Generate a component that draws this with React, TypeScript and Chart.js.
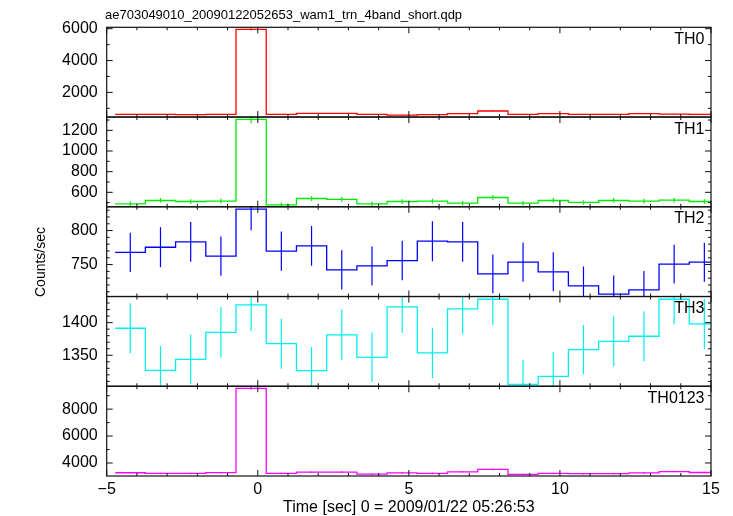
import React, { useEffect, useRef } from "react";
import { Chart, registerables } from "chart.js";

Chart.register(...registerables);

const FONT = "'Liberation Sans', Arial, Helvetica, sans-serif";

const TITLE = "ae703049010_20090122052653_wam1_trn_4band_short.qdp";
const X_LABEL = "Time [sec] 0 = 2009/01/22 05:26:53";
const Y_LABEL = "Counts/sec";

const BIN_CENTERS = [
  -4.22, -3.22, -2.22, -1.22, -0.22, 0.78, 1.78, 2.78, 3.78, 4.78,
  5.78, 6.78, 7.78, 8.78, 9.78, 10.78, 11.78, 12.78, 13.78, 14.78,
];
const BIN_HALF_WIDTH = 0.5;

const PANEL_NAMES = ["TH0", "TH1", "TH2", "TH3", "TH0123"];

const TH0 = [621, 621, 600, 621, 5960, 621, 684, 684, 621, 579, 600, 663, 831, 621, 663, 621, 621, 663, 642, 621];
const TH0_ERR = [25, 25, 24, 25, 78, 25, 26, 26, 25, 24, 24, 26, 29, 25, 26, 25, 25, 26, 25, 25];

const TH1 = [489, 521, 511, 515, 1306, 479, 540, 531, 489, 511, 515, 495, 550, 495, 521, 502, 521, 515, 524, 511];
const TH1_ERR = [22, 23, 23, 23, 36, 22, 23, 23, 22, 23, 23, 22, 23, 22, 23, 22, 23, 23, 23, 23];

const TH2 = [768, 775.5, 783.4, 762.4, 831.5, 769.7, 777.5, 742.2, 748, 755.9, 784.4, 783.4, 736.3, 753.5, 739.3, 718.7, 706.4, 712.8, 750.6, 753.5];
const TH2_ERR = [28.9, 29.4, 29.2, 28.9, 31, 28.9, 29.1, 28.7, 28.7, 29, 29.4, 29.2, 28.5, 28.9, 28.7, 28.4, 27.5, 27.9, 28.5, 28.7];

const TH3 = [1391.4, 1326.9, 1343.8, 1385.2, 1427.1, 1367.8, 1326.4, 1381.1, 1346.9, 1424.1, 1353.5, 1421, 1435.8, 1305.5, 1317.7, 1358.6, 1371.4, 1379.1, 1435.8, 1398];
const TH3_ERR = [38.3, 37.3, 38.1, 38.6, 40, 38.3, 36.8, 38.9, 37.8, 40, 38.3, 38.9, 39.3, 37.3, 37.3, 37.8, 38.3, 38.3, 38.3, 38.6];

const TH0123 = [3275, 3225, 3222, 3282, 9538, 3222, 3317, 3322, 3170, 3263, 3230, 3347, 3529, 3153, 3224, 3203, 3213, 3263, 3366, 3295];
const TH0123_ERR = [57, 57, 57, 57, 98, 57, 58, 58, 56, 57, 57, 58, 59, 56, 57, 57, 57, 57, 58, 57];

const SERIES = [TH0, TH1, TH2, TH3, TH0123];
const ERRORS = [TH0_ERR, TH1_ERR, TH2_ERR, TH3_ERR, TH0123_ERR];
const COLORS = ["rgb(255,0,0)", "rgb(0,235,0)", "rgb(0,0,255)", "rgb(0,240,240)", "rgb(255,0,255)"];

const Y_MIN = [453, 460, 703, 1302.5, 3034];
const Y_MAX = [6088, 1329, 835, 1440, 9698];
const Y_TICK_LABELS = [
  [2000, 4000, 6000],
  [600, 800, 1000, 1200],
  [750, 800],
  [1350, 1400],
  [4000, 6000, 8000],
];
const Y_MAJOR = [2000, 200, 50, 50, 2000];
const Y_MINOR = [1000, 100, 10, 10, 1000];

const X_MIN = -5;
const X_MAX = 15;
const X_TICK_LABELS = [-5, 0, 5, 10, 15];
const X_MAJOR = 5;
const X_MINOR = 1;

function histPoints(values: number[]) {
  const pts = values.map((v, i) => ({ x: BIN_CENTERS[i] - BIN_HALF_WIDTH, y: v }));
  const last = values.length - 1;
  pts.push({ x: BIN_CENTERS[last] + BIN_HALF_WIDTH, y: values[last] });
  return pts;
}

const isMultiple = (v: number, step: number) => Math.abs(v / step - Math.round(v / step)) < 1e-6;

const qdpPlugin = {
  id: "qdpPanels",
  afterDatasetsDraw(chart: any) {
    const ctx = chart.ctx as CanvasRenderingContext2D;
    const xs = chart.scales.x;
    const area = chart.chartArea;
    PANEL_NAMES.forEach((_, i) => {
      const ys = chart.scales["y" + i];
      ctx.save();
      ctx.beginPath();
      ctx.rect(area.left, ys.top, area.right - area.left, ys.bottom - ys.top);
      ctx.clip();
      ctx.strokeStyle = COLORS[i];
      ctx.lineWidth = 1.2;
      ctx.beginPath();
      SERIES[i].forEach((v, k) => {
        const px = xs.getPixelForValue(BIN_CENTERS[k]);
        ctx.moveTo(px, ys.getPixelForValue(v - ERRORS[i][k]));
        ctx.lineTo(px, ys.getPixelForValue(v + ERRORS[i][k]));
      });
      ctx.stroke();
      ctx.restore();
    });
  },
  afterDraw(chart: any) {
    const ctx = chart.ctx as CanvasRenderingContext2D;
    const xs = chart.scales.x;
    const area = chart.chartArea;
    const left = area.left;
    const right = area.right;
    ctx.save();
    ctx.strokeStyle = "#111";
    ctx.lineWidth = 1;
    PANEL_NAMES.forEach((name, i) => {
      const ys = chart.scales["y" + i];
      const top = ys.top;
      const bottom = ys.bottom;
      ctx.beginPath();
      for (let v = X_MIN; v <= X_MAX + 1e-9; v += X_MINOR) {
        const px = xs.getPixelForValue(v);
        const len = isMultiple(v, X_MAJOR) ? 6 : 3;
        ctx.moveTo(px, bottom);
        ctx.lineTo(px, bottom - len);
        ctx.moveTo(px, top);
        ctx.lineTo(px, top + len);
      }
      const start = Math.ceil(Y_MIN[i] / Y_MINOR[i]) * Y_MINOR[i];
      for (let v = start; v <= Y_MAX[i] + 1e-9; v += Y_MINOR[i]) {
        const py = ys.getPixelForValue(v);
        const len = isMultiple(v, Y_MAJOR[i]) ? 6 : 3;
        ctx.moveTo(left, py);
        ctx.lineTo(left + len, py);
        ctx.moveTo(right, py);
        ctx.lineTo(right - len, py);
      }
      ctx.stroke();
      ctx.lineWidth = 1.2;
      ctx.strokeRect(left, top, right - left, bottom - top);
      ctx.lineWidth = 1;
      ctx.fillStyle = "#000";
      ctx.font = `16px ${FONT}`;
      ctx.textAlign = "right";
      ctx.textBaseline = "alphabetic";
      ctx.fillText(name, right - 6.5, top + 16.5);
    });
    ctx.fillStyle = "#000";
    ctx.font = `13px ${FONT}`;
    ctx.textAlign = "left";
    ctx.textBaseline = "alphabetic";
    ctx.fillText(TITLE, 105, 19);
    ctx.translate(45, 262);
    ctx.rotate(-Math.PI / 2);
    ctx.font = `14px ${FONT}`;
    ctx.textAlign = "center";
    ctx.textBaseline = "alphabetic";
    ctx.fillText(Y_LABEL, 0, 0);
    ctx.restore();
  },
};

export default function App() {
  const ref = useRef<HTMLCanvasElement>(null);
  useEffect(() => {
    const canvas = ref.current;
    if (!canvas) return;
    Chart.defaults.font.family = FONT;
    Chart.defaults.color = "#000";

    const scales: any = {
      x: {
        type: "linear",
        position: "bottom",
        min: X_MIN,
        max: X_MAX,
        grid: { display: false, drawTicks: false },
        border: { display: false },
        afterBuildTicks: (s: any) => {
          s.ticks = X_TICK_LABELS.map((v) => ({ value: v }));
        },
        ticks: {
          autoSkip: false,
          maxRotation: 0,
          padding: 6,
          color: "#000",
          font: { size: 16, family: FONT, lineHeight: 1 },
          callback: (v: any) => (Number(v) < 0 ? "\u2212" + Math.abs(Number(v)) : String(v)),
        },
        title: {
          display: true,
          text: X_LABEL,
          color: "#000",
          padding: 0,
          font: { size: 16, family: FONT, lineHeight: 1 },
        },
        afterFit: (s: any) => {
          s.height = 40;
          s.paddingLeft = 0;
          s.paddingRight = 0;
        },
      },
    };
    PANEL_NAMES.forEach((_, i) => {
      scales["y" + i] = {
        type: "linear",
        position: "left",
        stack: "panels",
        stackWeight: 1,
        weight: PANEL_NAMES.length - i,
        min: Y_MIN[i],
        max: Y_MAX[i],
        grid: { display: false, drawTicks: false },
        border: { display: false },
        afterBuildTicks: (s: any) => {
          s.ticks = Y_TICK_LABELS[i].map((v) => ({ value: v }));
        },
        ticks: {
          autoSkip: false,
          padding: 9,
          color: "#000",
          font: { size: 16, family: FONT },
          callback: (v: any) => String(v),
        },
        afterFit: (s: any) => {
          s.width = 106.7;
          s.paddingTop = 0;
          s.paddingBottom = 0;
        },
      };
    });

    const chart = new Chart(canvas, {
      type: "line",
      data: {
        datasets: SERIES.map((vals, i) => ({
          label: PANEL_NAMES[i],
          data: histPoints(vals),
          yAxisID: "y" + i,
          xAxisID: "x",
          stepped: "before" as const,
          borderColor: COLORS[i],
          borderWidth: 1.3,
          pointRadius: 0,
          fill: false,
        })),
      },
      options: {
        responsive: false,
        animation: false,
        events: [],
        layout: { padding: { top: 27.3, right: 22, left: 0, bottom: 0 } },
        plugins: {
          legend: { display: false },
          tooltip: { enabled: false },
          title: { display: false },
        },
        scales,
      },
      plugins: [qdpPlugin],
    });
    return () => chart.destroy();
  }, []);

  return (
    <canvas
      ref={ref}
      width={733}
      height={516}
      style={{ position: "absolute", left: 0, top: 0, background: "#fff" }}
    />
  );
}
